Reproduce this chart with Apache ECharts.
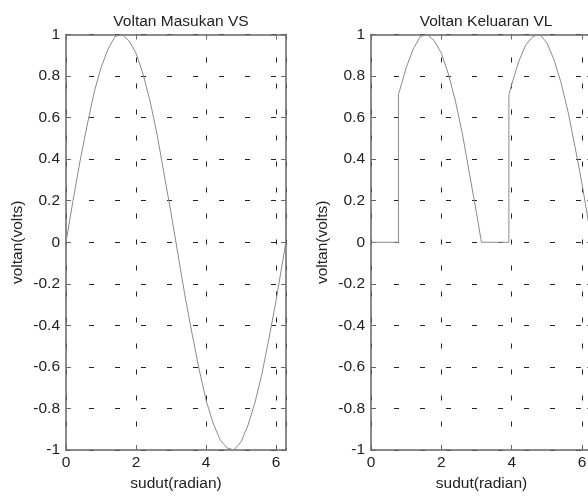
<!DOCTYPE html>
<html>
<head>
<meta charset="utf-8">
<script src="https://cdn.jsdelivr.net/npm/echarts@6/dist/echarts.min.js"></script>
<style>
  html, body { margin: 0; padding: 0; background: #fff; overflow: hidden; }
  #chart { width: 600px; height: 497px; }
</style>
</head>
<body>
<div id="chart"></div>
<script>
// Voltan Masukan VS (sudut radian -> volts)
const sudutVS = [0, 0.2, 0.4, 0.6, 0.8, 1.0, 1.2, 1.4, 1.6, 1.8, 2.0, 2.2, 2.4, 2.6, 2.8, 3.0,
  3.2, 3.4, 3.6, 3.8, 4.0, 4.2, 4.4, 4.6, 4.8, 5.0, 5.2, 5.4, 5.6, 5.8, 6.0, 6.2, 6.28];
const voltanVS = [0, 0.20, 0.39, 0.56, 0.72, 0.84, 0.93, 0.99, 1.00, 0.97, 0.91, 0.81, 0.68, 0.52, 0.33, 0.14,
  -0.06, -0.26, -0.44, -0.61, -0.76, -0.87, -0.95, -0.99, -1.00, -0.96, -0.88, -0.77, -0.63, -0.46, -0.28, -0.08, 0];

// Voltan Keluaran VL
const sudutVL = [0, 0.78, 0.78, 1.0, 1.2, 1.4, 1.6, 1.8, 2.0, 2.2, 2.4, 2.6, 2.8, 3.0, 3.14,
  3.92, 3.92, 4.0, 4.2, 4.4, 4.6, 4.8, 5.0, 5.2, 5.4, 5.6, 5.8, 6.0, 6.2, 6.28];
const voltanVL = [0, 0, 0.71, 0.84, 0.93, 0.99, 1.00, 0.97, 0.91, 0.81, 0.68, 0.52, 0.33, 0.14, 0,
  0, 0.71, 0.76, 0.87, 0.95, 0.99, 1.00, 0.96, 0.88, 0.77, 0.63, 0.46, 0.28, 0.08, 0];

const titles = ['Voltan Masukan VS', 'Voltan Keluaran VL'];
const xName = 'sudut(radian)';
const yName = 'voltan(volts)';

const font = 'Liberation Sans, Arial, sans-serif';
const fontSize = 15.5;
const textColor = '#222';
const boxColor = '#666';
const gridDash = { color: '#222', width: 1, type: [5, 21], dashOffset: 3 };

const myChart = echarts.init(document.getElementById('chart'));

function xAxes(i) {
  const base = { type: 'value', gridIndex: i, min: 0, max: 2 * Math.PI, interval: 2 };
  return [
    {
      ...base,
      position: 'bottom',
      name: xName, nameLocation: 'middle', nameGap: 26,
      nameTextStyle: { fontFamily: font, fontSize: fontSize, color: textColor },
      axisLine: { show: true, onZero: false, lineStyle: { color: boxColor, width: 1.5 } },
      axisTick: { show: true, inside: true, length: 5, lineStyle: { color: boxColor } },
      axisLabel: { margin: 5, fontFamily: font, fontSize: fontSize, color: textColor, showMaxLabel: false },
      splitLine: { show: true, lineStyle: gridDash },
    },
    {
      ...base,
      position: 'top',
      axisLine: { show: true, onZero: false, lineStyle: { color: boxColor, width: 1.5 } },
      axisTick: { show: true, inside: true, length: 5, lineStyle: { color: boxColor } },
      axisLabel: { show: false },
      splitLine: { show: false },
    },
  ];
}

function yAxes(i) {
  const base = { type: 'value', gridIndex: i, min: -1, max: 1, interval: 0.2 };
  return [
    {
      ...base,
      position: 'left',
      name: yName, nameLocation: 'middle', nameGap: 40,
      nameTextStyle: { fontFamily: font, fontSize: fontSize, color: textColor },
      axisLine: { show: true, onZero: false, lineStyle: { color: boxColor, width: 1.5 } },
      axisTick: { show: true, inside: true, length: 5, lineStyle: { color: boxColor } },
      axisLabel: { margin: 6, fontFamily: font, fontSize: fontSize, color: textColor },
      splitLine: { show: true, lineStyle: gridDash },
    },
    {
      ...base,
      position: 'right',
      axisLine: { show: true, onZero: false, lineStyle: { color: boxColor, width: 1.5 } },
      axisTick: { show: true, inside: true, length: 5, lineStyle: { color: boxColor } },
      axisLabel: { show: false },
      splitLine: { show: false },
    },
  ];
}

function lineSeries(xs, ys, i) {
  return {
    type: 'line',
    xAxisIndex: i * 2,
    yAxisIndex: i * 2,
    data: xs.map((x, k) => [x, ys[k]]),
    showSymbol: false,
    lineStyle: { color: '#8a8a8a', width: 1 },
    silent: true,
  };
}

const option = {
  animation: false,
  backgroundColor: '#fff',
  title: [
    { text: titles[0], left: 176, top: 9, textAlign: 'center',
      textStyle: { fontFamily: font, fontSize: fontSize, fontWeight: 'normal', color: textColor } },
    { text: titles[1], left: 481, top: 9, textAlign: 'center',
      textStyle: { fontFamily: font, fontSize: fontSize, fontWeight: 'normal', color: textColor } },
  ],
  grid: [
    { left: 66, top: 34.5, width: 220, height: 415.5 },
    { left: 371, top: 34.5, width: 221, height: 415.5 },
  ],
  xAxis: [...xAxes(0), ...xAxes(1)],
  yAxis: [...yAxes(0), ...yAxes(1)],
  series: [
    lineSeries(sudutVS, voltanVS, 0),
    lineSeries(sudutVL, voltanVL, 1),
  ],
};

myChart.setOption(option);
</script>
</body>
</html>
